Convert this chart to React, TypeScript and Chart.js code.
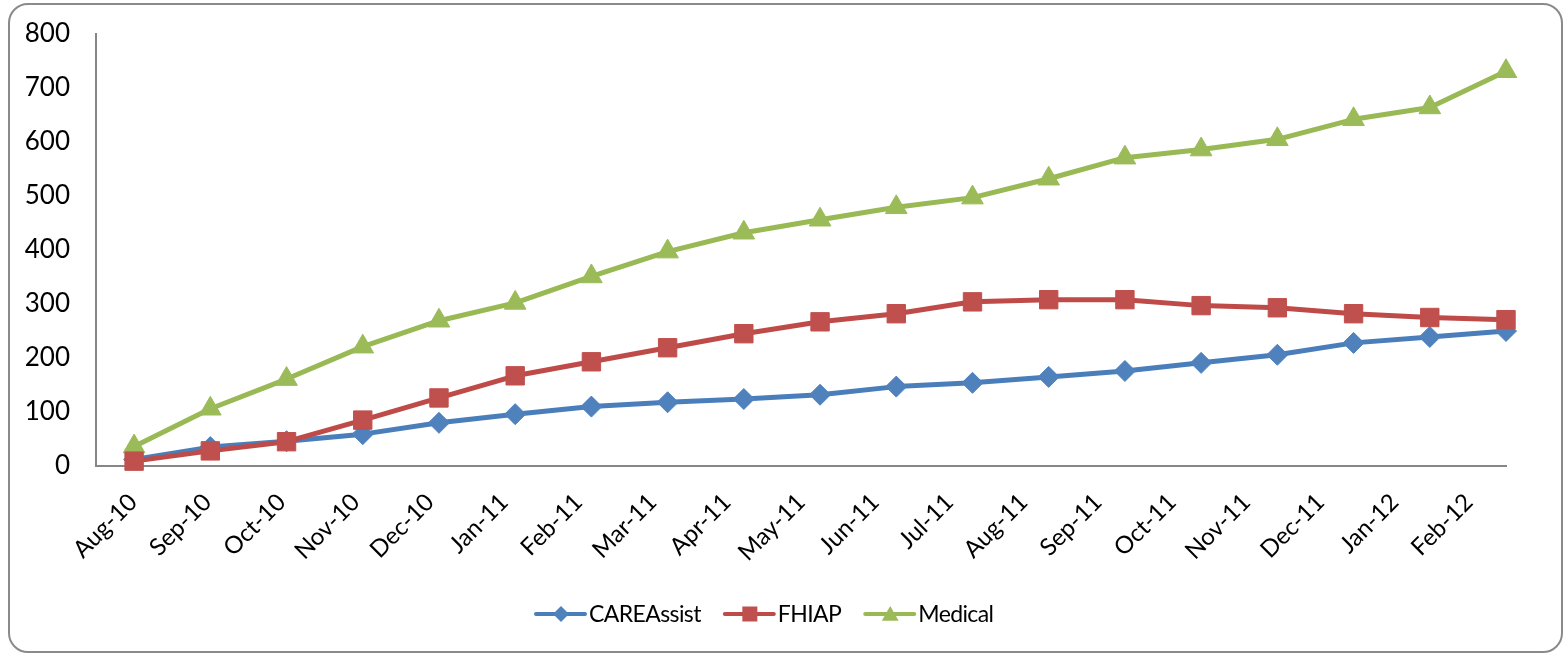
import React, { useEffect, useRef } from "react";
import { Chart, registerables } from "chart.js";

Chart.register(...registerables);

const MONTHS = [
  "Aug-10", "Sep-10", "Oct-10", "Nov-10", "Dec-10", "Jan-11", "Feb-11", "Mar-11", "Apr-11", "May-11",
  "Jun-11", "Jul-11", "Aug-11", "Sep-11", "Oct-11", "Nov-11", "Dec-11", "Jan-12", "Feb-12",
];
const CARE_ASSIST = [12, 35, 46, 59, 80, 96, 110, 118, 124, 132, 147, 154, 165, 176, 191, 206, 228, 239, 250];
const FHIAP = [9, 28, 45, 85, 126, 167, 193, 219, 245, 267, 282, 304, 308, 308, 297, 293, 282, 275, 271];
const MEDICAL = [36, 106, 161, 221, 269, 302, 351, 397, 432, 456, 479, 497, 532, 571, 586, 605, 642, 664, 731];
const Y_TICKS = [0, 100, 200, 300, 400, 500, 600, 700, 800];
const SERIES_NAMES = ["CAREAssist", "FHIAP", "Medical"];

const FONT = "Lato";

function drawMarker(ctx: CanvasRenderingContext2D, style: string, cx: number, cy: number, r: number, color: string) {
  ctx.fillStyle = color;
  ctx.beginPath();
  if (style === "rectRot") {
    ctx.moveTo(cx, cy - r);
    ctx.lineTo(cx + r, cy);
    ctx.lineTo(cx, cy + r);
    ctx.lineTo(cx - r, cy);
  } else if (style === "rect") {
    ctx.rect(cx - r, cy - r, 2 * r, 2 * r);
  } else {
    ctx.moveTo(cx, cy - r);
    ctx.lineTo(cx + r * 1.05, cy + r * 0.85);
    ctx.lineTo(cx - r * 1.05, cy + r * 0.85);
  }
  ctx.closePath();
  ctx.fill();
}

const legendPlugin = {
  id: "excelLegend",
  afterDraw(chart: any) {
    const ctx: any = chart.ctx;
    ctx.save();
    ctx.font = `23px ${FONT}`;
    if ("letterSpacing" in ctx) ctx.letterSpacing = "-0.6px";
    ctx.textBaseline = "middle";
    ctx.textAlign = "left";
    let x = 536;
    const y = 614;
    chart.data.datasets.forEach((ds: any) => {
      ctx.strokeStyle = ds.borderColor;
      ctx.lineWidth = 4;
      ctx.lineCap = "round";
      ctx.beginPath();
      ctx.moveTo(x, y);
      ctx.lineTo(x + 49, y);
      ctx.stroke();
      const r = ds.pointStyle === "rect" ? 7.5 : 8;
      drawMarker(ctx, ds.pointStyle, x + 25, y, r, ds.pointBackgroundColor);
      ctx.fillStyle = "#000";
      ctx.fillText(ds.label, x + 53, y + 1);
      x += 53 + ctx.measureText(ds.label).width + 24;
    });
    ctx.restore();
  },
};

export default function App() {
  const canvasRef = useRef<HTMLCanvasElement | null>(null);

  useEffect(() => {
    document.body.style.margin = "0";
    const canvas = canvasRef.current;
    if (!canvas) return;
    Chart.defaults.font.family = FONT;
    Chart.defaults.color = "#000";

    const toPoints = (arr: number[]) => arr.map((y, i) => ({ x: i, y }));

    const chart = new Chart(canvas, {
      type: "line",
      data: {
        labels: MONTHS,
        datasets: [
          {
            label: SERIES_NAMES[0],
            data: toPoints(CARE_ASSIST),
            borderColor: "#4A7EBB",
            backgroundColor: "#4F81BD",
            pointBackgroundColor: "#4F81BD",
            pointBorderColor: "#4F81BD",
            pointStyle: "rectRot",
            pointRadius: 10.5,
            pointBorderWidth: 1,
            borderWidth: 5,
            order: 2,
            clip: false,
            xAxisID: "x",
          },
          {
            label: SERIES_NAMES[1],
            data: toPoints(FHIAP),
            borderColor: "#BE4B48",
            backgroundColor: "#C0504D",
            pointBackgroundColor: "#C0504D",
            pointBorderColor: "#C0504D",
            pointStyle: "rect",
            pointRadius: 13,
            pointBorderWidth: 1,
            borderWidth: 5,
            order: 0,
            clip: false,
            xAxisID: "x",
          },
          {
            label: SERIES_NAMES[2],
            data: toPoints(MEDICAL),
            borderColor: "#98B954",
            backgroundColor: "#9BBB59",
            pointBackgroundColor: "#9BBB59",
            pointBorderColor: "#9BBB59",
            pointStyle: "triangle",
            pointRadius: 12.5,
            pointBorderWidth: 1,
            borderWidth: 5,
            order: 1,
            clip: false,
            xAxisID: "x",
          },
        ],
      },
      options: {
        animation: false,
        responsive: false,
        maintainAspectRatio: false,
        layout: { padding: { top: 34, right: 58, left: 0, bottom: 0 } },
        elements: { line: { borderJoinStyle: "round", tension: 0 } },
        plugins: {
          legend: { display: false },
          tooltip: { enabled: false },
          title: { display: false },
        },
        scales: {
          x: {
            type: "linear",
            position: "bottom",
            weight: 0,
            min: -0.5,
            max: MONTHS.length - 1,
            grid: { display: false, drawTicks: false },
            border: { display: true, color: "#868686", width: 2 },
            afterBuildTicks: (scale: any) => {
              scale.ticks = MONTHS.map((_, i) => ({ value: i }));
            },
            afterFit: (scale: any) => {
              scale.height = 0;
            },
            ticks: { display: false },
          },
          x2: {
            type: "category",
            position: "bottom",
            weight: 1,
            offset: true,
            grid: { display: false, drawTicks: false },
            border: { display: false },
            afterFit: (scale: any) => {
              scale.height = 189;
            },
            ticks: {
              autoSkip: false,
              minRotation: 45,
              maxRotation: 45,
              padding: 22,
              color: "#000",
              font: { family: FONT, size: 24 },
            },
          },
          y: {
            type: "linear",
            min: 0,
            max: 800,
            grid: { display: false, drawTicks: false },
            border: { display: true, color: "#868686", width: 2 },
            afterBuildTicks: (scale: any) => {
              scale.ticks = Y_TICKS.map((v) => ({ value: v }));
            },
            afterFit: (scale: any) => {
              scale.width = 96;
              scale.paddingTop = 0;
              scale.paddingBottom = 0;
            },
            ticks: {
              padding: 26,
              color: "#000",
              font: { family: FONT, size: 26 },
              callback: (value: any) => String(value),
            },
          },
        },
      },
      plugins: [legendPlugin],
    });

    let alive = true;
    if ((document as any).fonts && (document as any).fonts.load) {
      (document as any).fonts.load(`22px ${FONT}`).then(() => {
        if (alive) chart.update();
      }).catch(() => {});
    }

    return () => {
      alive = false;
      chart.destroy();
    };
  }, []);

  return (
    <div style={{ position: "relative", width: 1564, height: 655 }}>
      <div
        style={{
          position: "absolute",
          left: 8,
          top: 3,
          width: 1551,
          height: 646,
          border: "2px solid #8a8a8a",
          borderRadius: 20,
          boxSizing: "content-box",
          background: "#fff",
        }}
      />
      <canvas
        ref={canvasRef}
        width={1564}
        height={655}
        style={{ position: "absolute", left: 0, top: 0, width: 1564, height: 655 }}
      />
    </div>
  );
}
